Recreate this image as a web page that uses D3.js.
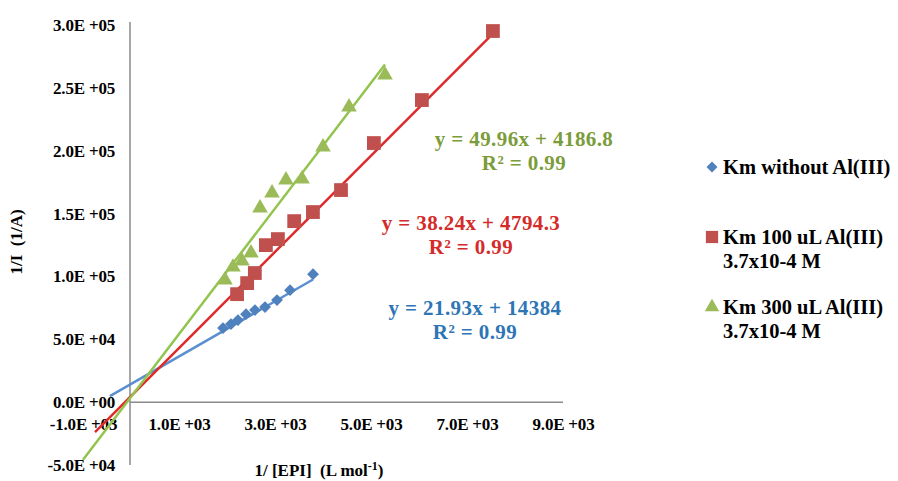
<!DOCTYPE html>
<html>
<head>
<meta charset="utf-8">
<script src="https://cdn.jsdelivr.net/npm/d3@7/dist/d3.min.js"></script>
<style>
  html, body { margin: 0; padding: 0; background: #fff; }
  svg { display: block; }
  text { font-family: "Liberation Serif", "Times New Roman", serif; font-weight: bold; }
  .pre { white-space: pre; }
</style>
</head>
<body>
<svg id="chart" width="898" height="481"></svg>
<script>
// ---------- data ----------
const seriesNames = ["Km without Al(III)", "Km 100 uL Al(III)", "Km 300 uL Al(III)"];
const seriesNames2 = ["", "3.7x10-4 M", "3.7x10-4 M"];

const blueX = [1917, 2083, 2229, 2396, 2583, 2792, 3042, 3313, 3792];
const blueY = [58900, 62100, 65300, 70000, 73200, 75600, 81200, 89100, 101800];

const redX = [2210, 2420, 2580, 2810, 3060, 3400, 3790, 4375, 5060, 6060, 7540];
const redY = [85900, 94700, 102700, 124900, 129700, 144000, 151200, 168700, 206100, 240300, 295200];

const greenX = [1958, 2125, 2313, 2500, 2688, 2938, 3229, 3563, 4000, 4542, 5292];
const greenY = [97100, 107400, 112200, 118600, 154400, 166300, 176700, 177500, 202900, 234700, 260200];

const slopes = [21.93, 38.24, 49.96];
const intercepts = [14384, 4794.3, 4186.8];
const trendStart = [-440, -750, -1000];
const equations = ["y = 21.93x + 14384", "y = 38.24x + 4794.3", "y = 49.96x + 4186.8"];
const rSquared = ["R² = 0.99", "R² = 0.99", "R² = 0.99"];

const xTickValues = [-1000, 1000, 3000, 5000, 7000, 9000];
const xTickLabels = ["-1.0E +03", "1.0E +03", "3.0E +03", "5.0E +03", "7.0E +03", "9.0E +03"];
const yTickValues = [300000, 250000, 200000, 150000, 100000, 50000, 0, -50000];
const yTickLabels = ["3.0E +05", "2.5E +05", "2.0E +05", "1.5E +05", "1.0E +05", "5.0E +04", "0.0E +00", "-5.0E +04"];

// ---------- styles ----------
const markerColors = ["#4F81BD", "#C0504D", "#9BBB59"];
const lineColors = ["#5B8FCF", "#DD2A2A", "#92C44E"];
const eqColors = ["#2E75B6", "#D42B2B", "#7B9C3A"];

const svg = d3.select("#chart");

const x = d3.scaleLinear().domain([0, 9000]).range([131, 563]);
const y = d3.scaleLinear().domain([-50000, 300000]).range([465, 25]);

// axes lines
svg.append("line").attr("x1", 130).attr("x2", 130).attr("y1", 22).attr("y2", y(-50000))
  .attr("stroke", "#8a8a8a").attr("stroke-width", 1.5);
svg.append("line").attr("x1", 130).attr("x2", x(9000)).attr("y1", y(0)).attr("y2", y(0))
  .attr("stroke", "#8a8a8a").attr("stroke-width", 1.5);

const tickFont = sel => sel.style("font-size", "17px").style("font-family", "Liberation Serif")
  .style("font-weight", "bold").style("letter-spacing", "-0.2px").attr("fill", "#000");

// tick labels via axis generators (no tick marks / domain)
const xAxis = d3.axisBottom(x).tickValues(xTickValues).tickSize(0)
  .tickFormat((d, i) => xTickLabels[i]);
const gx = svg.append("g").attr("transform", `translate(0,${y(0) + 22})`).call(xAxis);
gx.select(".domain").remove();
gx.selectAll("text").attr("dy", "0.32em").attr("y", 0).call(tickFont);

const yAxis = d3.axisLeft(y).tickValues(yTickValues).tickSize(0)
  .tickFormat((d, i) => yTickLabels[i]);
const gy = svg.append("g").attr("transform", `translate(115,0)`).call(yAxis);
gy.select(".domain").remove();
gy.selectAll("text").attr("x", 0).call(tickFont);

// axis titles
svg.append("text").attr("class", "pre").attr("transform", "translate(22,242) rotate(-90)")
  .attr("text-anchor", "middle").style("font-size", "17px").text("1/I  (1/A)");
const xt = svg.append("text").attr("class", "pre").attr("x", 319).attr("y", 476)
  .attr("text-anchor", "middle").style("font-size", "17px");
xt.append("tspan").text("1/ [EPI]  (L mol");
xt.append("tspan").attr("dy", -6).style("font-size", "12px").text("-1");
xt.append("tspan").attr("dy", 6).text(")");

// trendlines
const seriesX = [blueX, redX, greenX];
const seriesY = [blueY, redY, greenY];
const line = d3.line().x(d => x(d[0])).y(d => y(d[1]));
for (let i = 0; i < 3; i++) {
  const x0 = trendStart[i], x1 = d3.max(seriesX[i]);
  svg.append("path")
    .attr("d", line([[x0, slopes[i] * x0 + intercepts[i]], [x1, slopes[i] * x1 + intercepts[i]]]))
    .attr("stroke", lineColors[i]).attr("stroke-width", 2.5).attr("fill", "none");
}

// markers
const symbols = [
  d3.symbol(d3.symbolSquare, 70),
  d3.symbol(d3.symbolSquare, 190),
  d3.symbol(d3.symbolTriangle, 105)
];
const rot = [45, 0, 0];
for (let i = 0; i < 3; i++) {
  svg.append("g").selectAll("path").data(d3.zip(seriesX[i], seriesY[i])).join("path")
    .attr("d", symbols[i])
    .attr("transform", d => `translate(${x(d[0])},${y(d[1])}) rotate(${rot[i]})`)
    .attr("fill", markerColors[i]);
}

// equations
const eqPos = [[475, 308], [471, 223], [524, 139]];
for (let i = 0; i < 3; i++) {
  svg.append("text").attr("x", eqPos[i][0]).attr("y", eqPos[i][1]).attr("dy", "0.35em")
    .attr("text-anchor", "middle").style("font-size", "21px").style("letter-spacing", "0.4px")
    .attr("fill", eqColors[i]).text(equations[i]);
  svg.append("text").attr("x", eqPos[i][0]).attr("y", eqPos[i][1] + 24).attr("dy", "0.35em")
    .attr("text-anchor", "middle").style("font-size", "21px").style("letter-spacing", "0.4px")
    .attr("fill", eqColors[i]).text(rSquared[i]);
}

// legend
const legY = [167, 237, 307];
for (let i = 0; i < 3; i++) {
  svg.append("path").attr("d", symbols[i].size(i === 0 ? 60 : (i === 1 ? 150 : 90))())
    .attr("transform", `translate(712,${legY[i]}) rotate(${rot[i]})`).attr("fill", markerColors[i]);
  svg.append("text").attr("x", 723).attr("y", legY[i]).attr("dy", "0.35em")
    .style("font-size", "20.5px").attr("fill", "#000").text(seriesNames[i]);
  if (seriesNames2[i]) {
    svg.append("text").attr("x", 723).attr("y", legY[i] + 24).attr("dy", "0.35em")
      .style("font-size", "20.5px").attr("fill", "#000").text(seriesNames2[i]);
  }
}
</script>
</body>
</html>
